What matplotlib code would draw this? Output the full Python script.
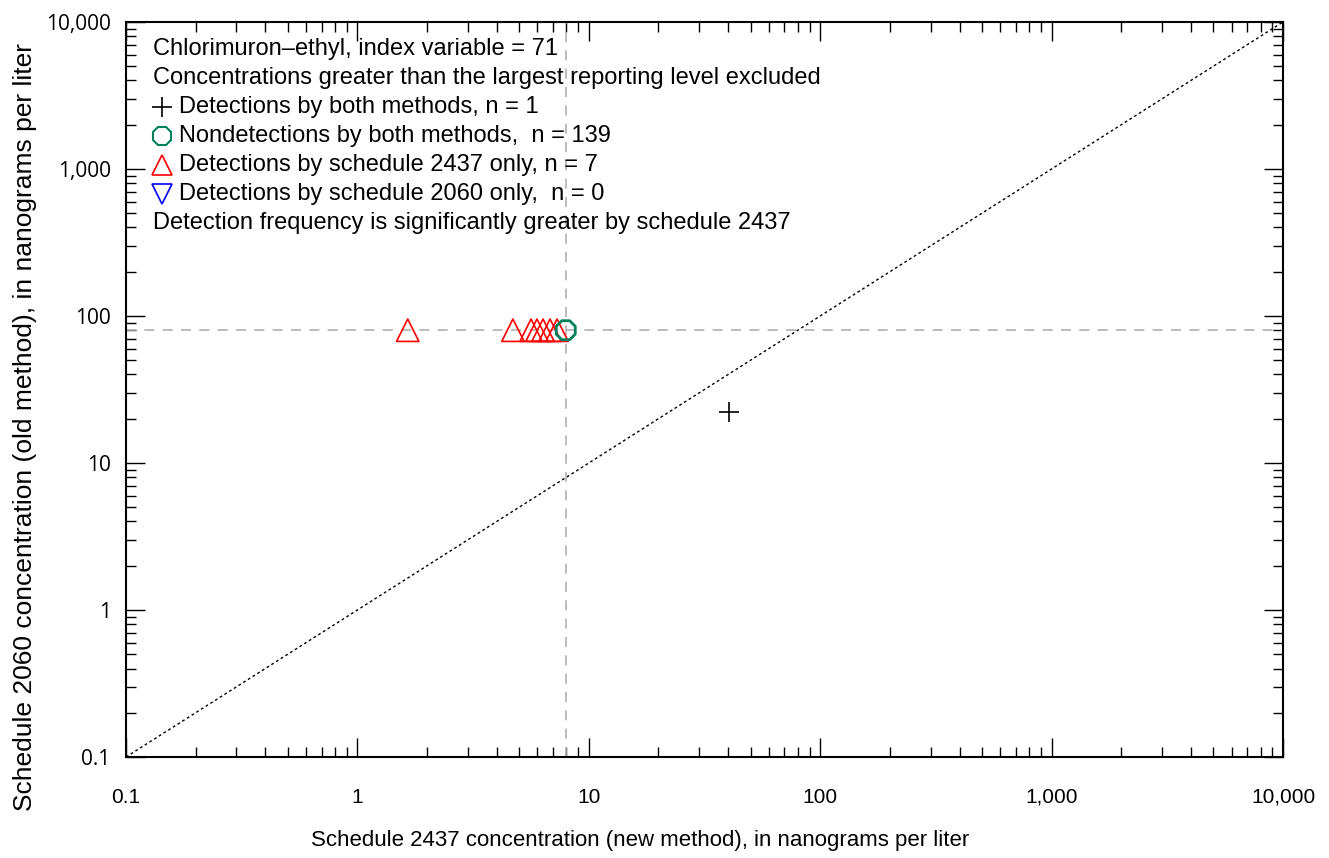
import matplotlib
matplotlib.use("Agg")
import matplotlib.pyplot as plt
from matplotlib.ticker import FixedLocator, LogLocator, NullFormatter

narrow = ['Liberation Sans', 'DejaVu Sans']
plt.rcParams['font.family'] = narrow

# data
both_x = [40.5]
both_y = [22.1]
nondet_x = [7.95]
nondet_y = [80]
only2437_x = [1.65, 4.70, 5.63, 5.97, 6.34, 6.80, 7.29]
only2437_y = [80, 80, 80, 80, 80, 80, 80]
only2060_x = []
only2060_y = []
rl_x = 8
rl_y = 80

tick_vals = [0.1, 1, 10, 100, 1000, 10000]
tick_labels = ['0.1', '1', '10', '100', '1,000', '10,000']

fig = plt.figure(figsize=(13.29, 8.58), dpi=100)
ax = fig.add_axes([0.0948, 0.1177, 0.8706, 0.8567])
ax.set_xscale('log')
ax.set_yscale('log')
ax.set_xlim(0.1, 10000)
ax.set_ylim(0.1, 10000)

ax.plot([0.1, 10000], [0.1, 10000], color='black', linestyle=(0, (2, 2)), linewidth=1)
ax.axvline(rl_x, color='#b0b0b0', linestyle=(0, (6, 5)), linewidth=1.2)
ax.axhline(rl_y, color='#b0b0b0', linestyle=(0, (6, 5)), linewidth=1.2)

ax.scatter(both_x, both_y, marker='+', s=220, color='black', linewidths=1.2, zorder=3)
ax.scatter(only2437_x, only2437_y, marker='^', s=260, facecolors='none',
           edgecolors='red', linewidths=1.2, zorder=3)
ax.scatter(only2060_x, only2060_y, marker='v', s=260, facecolors='none',
           edgecolors='blue', linewidths=1.2, zorder=3)
ax.scatter(nondet_x, nondet_y, marker='8', s=220, facecolors='none',
           edgecolors='#00805a', linewidths=2, zorder=4)

ax.xaxis.set_major_locator(FixedLocator(tick_vals))
ax.yaxis.set_major_locator(FixedLocator(tick_vals))
ax.xaxis.set_minor_locator(LogLocator(base=10, subs=range(2, 10)))
ax.yaxis.set_minor_locator(LogLocator(base=10, subs=range(2, 10)))
ax.xaxis.set_minor_formatter(NullFormatter())
ax.yaxis.set_minor_formatter(NullFormatter())
ax.set_xticklabels(tick_labels)
ax.set_yticklabels(tick_labels)
ax.tick_params(which='both', direction='in', top=True, right=True)
ax.tick_params(which='major', length=14, width=1)
ax.tick_params(which='minor', length=7, width=1)
ax.tick_params(axis='x', which='major', pad=22, labelsize=15)
ax.tick_params(axis='y', which='major', pad=11, labelsize=15)
for lab in ax.get_yticklabels():
    lab.set_family(['Open Sans', 'DejaVu Sans'])
for s in ax.spines.values():
    s.set_linewidth(1.5)

ax.set_xlabel('Schedule 2437 concentration (new method), in nanograms per liter',
              fontsize=16)
ax.set_ylabel('Schedule 2060 concentration (old method), in nanograms per liter',
              fontsize=19)
ax.xaxis.set_label_coords(0.444, -0.113)
ax.yaxis.set_label_coords(-0.087, 0.449)
ax.xaxis.label.set_va('center')
ax.yaxis.label.set_va('center')

# legend text block
lines = [
    (None, 'Chlorimuron\u2013ethyl, index variable = 71'),
    (None, 'Concentrations greater than the largest reporting level excluded'),
    ('+', 'Detections by both methods, n = 1'),
    ('8', 'Nondetections by both methods,  n = 139'),
    ('^', 'Detections by schedule 2437 only, n = 7'),
    ('v', 'Detections by schedule 2060 only,  n = 0'),
    (None, 'Detection frequency is significantly greater by schedule 2437'),
]
mstyle = {
    '+': dict(color='black', mfc='none', ms=14, mew=1.2),
    '8': dict(color='#00805a', mfc='none', ms=14, mew=1.5),
    '^': dict(color='red', mfc='none', ms=15, mew=1.2),
    'v': dict(color='blue', mfc='none', ms=15, mew=1.2),
}
y0 = 0.9633
dy = 0.0395
for i, (m, txt) in enumerate(lines):
    y = y0 - i * dy
    if m is None:
        ax.text(0.0233, y, txt, transform=ax.transAxes, fontsize=17, va='center')
    else:
        ax.plot([0.031], [y], marker=m, transform=ax.transAxes, linestyle='none',
                clip_on=False, **mstyle[m])
        ax.text(0.0458, y, txt, transform=ax.transAxes, fontsize=17, va='center')

fig.savefig('out.png', dpi=100)
